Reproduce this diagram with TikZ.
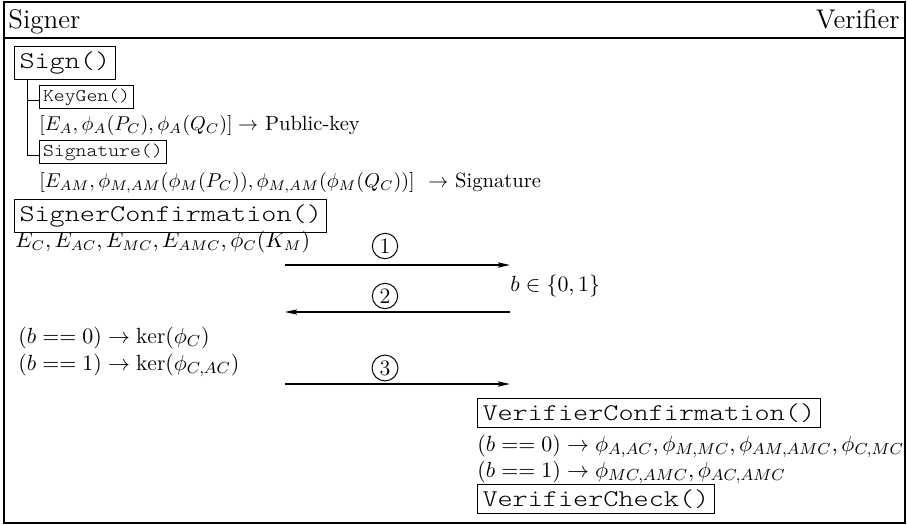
\documentclass[tikz,border=0pt]{standalone}
\usepackage{fontspec}
\usetikzlibrary{arrows.meta}
\newfontfamily\cour{lmmonolt10-regular.otf}[FakeStretch=1.2]
\newfontfamily\scour{lmmonolt10-regular.otf}[FakeStretch=1.15]
\tikzset{
  px/.style={x=0.5pt,y=-0.5pt},
  txt/.style={anchor=base west,inner sep=0pt,font=\fontsize{11}{13}\selectfont},
  stxt/.style={anchor=base west,inner sep=0pt,font=\fontsize{10.3}{12}\selectfont},
  head/.style={anchor=base west,inner sep=0pt,font=\fontsize{13.5}{16}\selectfont},
  fbox/.style={draw,line width=0.5pt,anchor=west,inner xsep=2.5pt,inner ysep=2.5pt,font=\cour\fontsize{12}{14}\selectfont},
  sfbox/.style={draw,line width=0.5pt,anchor=west,inner xsep=1.8pt,inner ysep=1.6pt,font=\scour\fontsize{9}{11}\selectfont},
  num/.style={draw,circle,line width=0.5pt,inner sep=1.3pt,font=\fontsize{11}{12}\selectfont},
  msg/.style={line width=0.8pt,-{Stealth[length=6pt,width=2.6pt,inset=1pt]}},
  tree/.style={line width=0.5pt},
  frame/.style={line width=1pt}
}
\begin{document}
\begin{tikzpicture}[px]
\useasboundingbox (0,0) rectangle (907,525);
% frame
\draw[frame] (4,2) rectangle (905,523);
\draw[frame] (4,38) -- (905,38);
\node[head] (signer) at (8,28) {Signer};
\node[head,anchor=base east] (verifier) at (900,28) {Verifier};
% Sign
\node[fbox] (sign) at (14,63) {Sign()};
\node[sfbox] (keygen) at (39,97) {KeyGen()};
\node[stxt] (pk) at (39,130) {$[E_A,\phi_A(P_C),\phi_A(Q_C)]\to$ Public-key};
\node[sfbox] (sig) at (39,152) {Signature()};
\node[stxt] (sigline) at (39,187) {$[E_{AM},\phi_{M,AM}(\phi_M(P_C)),\phi_{M,AM}(\phi_M(Q_C))]$\ \ $\to$ Signature};
\coordinate (tb) at (27,155);
\draw[tree] (sign.south -| tb) -- (tb) -- (tb -| sig.west);
\draw[tree] ([yshift=-1.5pt]keygen.west -| tb) -- ([yshift=-1.5pt]keygen.west);
% Signer confirmation
\node[fbox] (sc) at (14,216) {SignerConfirmation()};
\node[stxt,font=\fontsize{10.6}{12}\selectfont] (ec) at (15,247) {$E_C,E_{AC},E_{MC},E_{AMC},\phi_C(K_M)$};
\coordinate (a1s) at (285,265);
\coordinate (a1e) at (510,265);
\draw[msg] (a1s) -- (a1e);
\node[num] (n1) at (385,246) {1};
\node[txt] (bin) at (510,291) {$b\in\{0,1\}$};
\node[num] (n2) at (385,296) {2};
\coordinate (a2s) at (510,312);
\coordinate (a2e) at (285,312);
\draw[msg] (a2s) -- (a2e);
\node[txt] (k0) at (18,343) {$(b==0)\to\ker(\phi_C)$};
\node[txt] (k1) at (18,370) {$(b==1)\to\ker(\phi_{C,AC})$};
\node[num] (n3) at (385,368) {3};
\coordinate (a3s) at (285,384);
\coordinate (a3e) at (510,384);
\draw[msg] (a3s) -- (a3e);
% Verifier
\node[fbox] (vc) at (477,413) {VerifierConfirmation()};
\node[txt] (v0) at (477,451) {$(b==0)\to\phi_{A,AC},\phi_{M,MC},\phi_{AM,AMC},\phi_{C,MC}$};
\node[txt] (v1) at (477,477) {$(b==1)\to\phi_{MC,AMC},\phi_{AC,AMC}$};
\node[fbox] (vk) at (477,499) {VerifierCheck()};
\end{tikzpicture}
\end{document}
